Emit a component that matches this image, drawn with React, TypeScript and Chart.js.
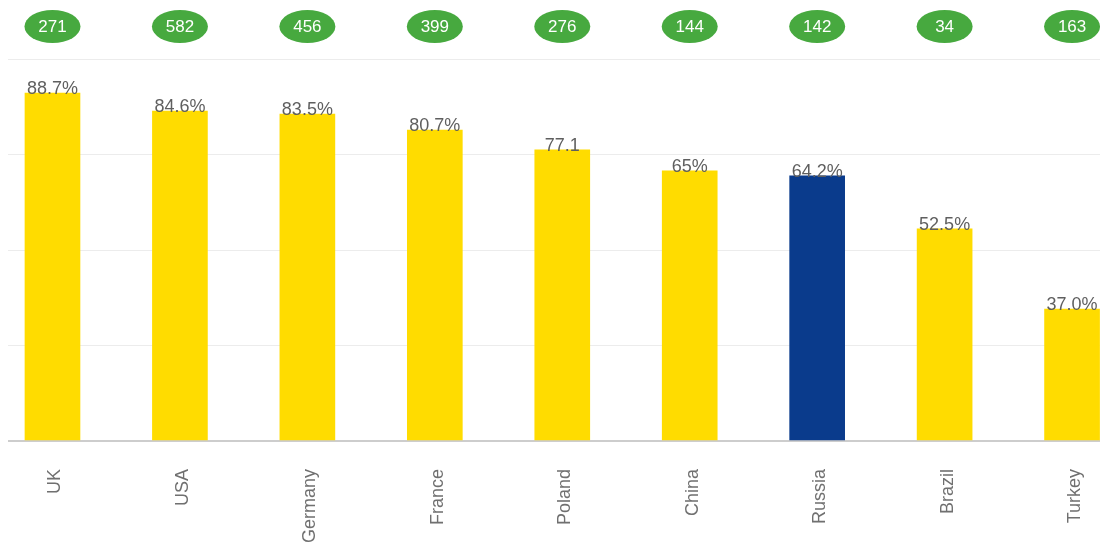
import React, { useEffect, useRef } from "react";
import { Chart, registerables } from "chart.js";

Chart.register(...registerables);

// Countries on the x axis
const categories = ["UK", "USA", "Germany", "France", "Poland", "China", "Russia", "Brazil", "Turkey"];
// Bar heights as drawn (percent, 0–100 scale)
const barValues = [91.2, 86.5, 85.7, 81.5, 76.3, 70.8, 69.5, 55.6, 34.6];
// Value labels printed above the bars
const valueLabels = ["88.7%", "84.6%", "83.5%", "80.7%", "77.1", "65%", "64.2%", "52.5%", "37.0%"];
// Numbers in the green badges
const badgeValues = [271, 582, 456, 399, 276, 144, 142, 34, 163];
const highlighted = "Russia";

const NARROW = "'Liberation Sans Narrow', 'Liberation Sans', Arial, sans-serif";
const REGULAR = "'Liberation Sans', Arial, sans-serif";

export default function App() {
  const ref = useRef<HTMLCanvasElement | null>(null);

  useEffect(() => {
    if (!ref.current) return;

    const labelsPlugin = {
      id: "valueAndBadges",
      afterDatasetsDraw(chart: any) {
        const ctx = chart.ctx;
        const meta = chart.getDatasetMeta(0);
        ctx.save();
        meta.data.forEach((bar: any, i: number) => {
          // value label
          ctx.fillStyle = "#5f5f5f";
          ctx.font = `18px ${NARROW}`;
          ctx.textAlign = "center";
          ctx.textBaseline = "alphabetic";
          ctx.fillText(valueLabels[i], bar.x, bar.y + 1);
          // badge
          ctx.beginPath();
          ctx.ellipse(bar.x, 18.5, 28, 16.5, 0, 0, Math.PI * 2);
          ctx.fillStyle = "#47A93F";
          ctx.fill();
          ctx.fillStyle = "#ffffff";
          ctx.font = `17px ${NARROW}`;
          ctx.textBaseline = "middle";
          ctx.fillText(String(badgeValues[i]), bar.x, 19.5);
        });
        ctx.restore();
      },
    };

    const chart = new Chart(ref.current, {
      type: "bar",
      data: {
        datasets: [
          {
            data: categories.map((c, i) => ({ x: i, y: barValues[i] })),
            backgroundColor: categories.map((c) => (c === highlighted ? "#0A3B8C" : "#FFDC00")),
            borderWidth: 0,
            barThickness: 55,
          },
        ],
      },
      options: {
        responsive: false,
        animation: false,
        layout: { padding: { top: 51.5, left: 0, right: 0, bottom: 0 } },
        plugins: { legend: { display: false }, tooltip: { enabled: false } },
        scales: {
          x: {
            type: "linear",
            min: -0.349,
            max: 8.282,
            offset: false,
            grid: { display: false, drawTicks: false, offset: false },
            border: { display: false },
            afterFit(scale: any) {
              scale.height = 105;
              scale.paddingLeft = 0;
              scale.paddingRight = 0;
            },
            ticks: {
              stepSize: 1,
              includeBounds: false,
              autoSkip: false,
              minRotation: 90,
              maxRotation: 90,
              padding: 28,
              labelOffset: 3,
              color: "#707070",
              font: { family: REGULAR, size: 18 },
              callback: (v: any) => (Number.isInteger(v) && categories[v] ? categories[v] : ""),
            },
          },
          y: {
            min: 0,
            max: 100,
            border: { display: false },
            grid: {
              drawTicks: false,
              color: (c: any) => (c.tick && c.tick.value === 0 ? "#cdcdcd" : "#ececec"),
              lineWidth: (c: any) => (c.tick && c.tick.value === 0 ? 2 : 1),
            },
            ticks: { display: false, stepSize: 25 },
          },
        },
      },
      plugins: [labelsPlugin],
    });

    return () => chart.destroy();
  }, []);

  return (
    <div style={{ width: 1100, height: 538 }}>
      <canvas ref={ref} width={1100} height={538} style={{ display: "block" }} />
    </div>
  );
}
